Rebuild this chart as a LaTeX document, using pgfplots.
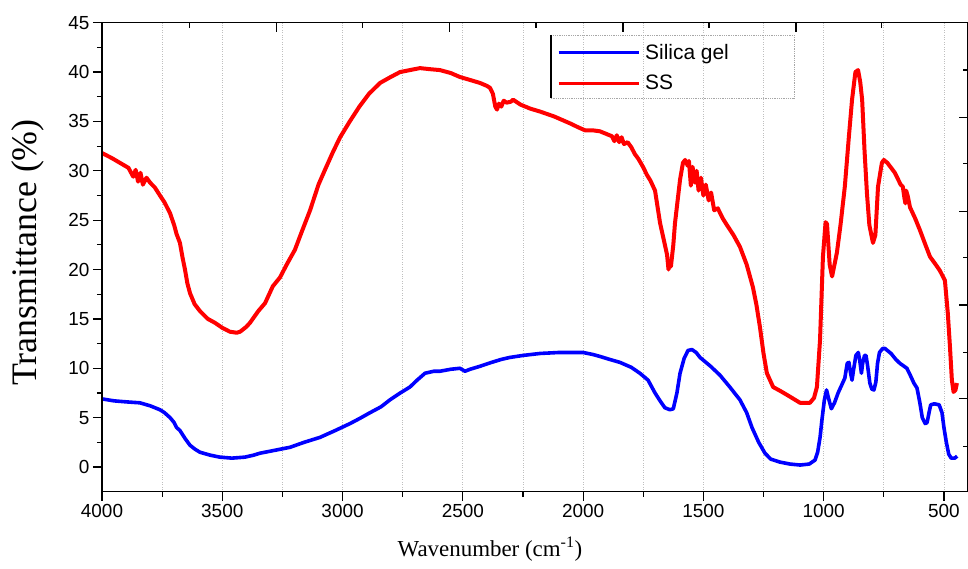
\documentclass[border=0pt]{standalone}
\usepackage{fontspec}
\setmainfont{Liberation Sans}
\newfontfamily\timesfont{Liberation Serif}
\usepackage{pgfplots}
\pgfplotsset{compat=1.18}
\begin{document}
\begin{tikzpicture}
\begin{axis}[
  at={(0,0)}, anchor=south west,
  width=866bp, height=469bp, scale only axis,
  x dir=reverse, xmin=400, xmax=4000, ymin=-2.5, ymax=45,
  xtick={500,1000,...,4000}, minor x tick num=1,
  ytick={0,5,...,45}, minor y tick num=1,
  tick pos=left, tick align=outside,
  major tick length=9bp, minor tick length=5bp,
  every tick/.style={black, line width=1.2bp},
  axis line style={line width=1.5bp},
  xmajorgrids, xminorgrids,
  major grid style={gray!50, dotted, line width=0.8bp},
  minor grid style={gray!50, dotted, line width=0.8bp},
  ticklabel style={font=\fontsize{19}{22}\selectfont},
  /pgf/number format/assume math mode=true,
  /pgf/number format/1000 sep={},
  clip=false,
  legend style={at={(rel axis cs:0.5254,0.958)}, anchor=north west, draw=none, fill=none,
    inner sep=0pt, font=\fontsize{21}{24}\selectfont, row sep=10bp, column sep=3bp, nodes={inner sep=2bp}},
  legend image code/.code={\draw[#1, line width=3pt] (0bp,0bp) -- (80bp,0bp);},
  legend cell align=left,
]
\addplot[blue, line width=3.6bp, line join=round] coordinates {
(4000,6.9)(3950,6.7)(3900,6.6)(3842,6.5)(3800,6.2)(3759,5.8)(3740,5.5)(3717,5.0)(3700,4.5)(3690,4.0)
(3676,3.7)(3655,2.9)(3634,2.2)(3613,1.8)(3593,1.5)(3550,1.2)(3510,1.0)(3460,0.9)(3406,1.0)(3370,1.2)
(3343,1.4)(3280,1.7)(3218,2.0)(3160,2.5)(3094,3.0)(3030,3.7)(2969,4.4)(2930,4.9)(2886,5.5)(2840,6.1)
(2803,6.8)(2760,7.5)(2720,8.1)(2690,8.8)(2657,9.5)(2620,9.7)(2595,9.7)(2550,9.9)(2512,10.0)(2491,9.7)
(2470,9.9)(2429,10.2)(2380,10.6)(2340,10.9)(2304,11.1)(2250,11.3)(2179,11.5)(2100,11.6)(2000,11.6)
(1960,11.4)(1930,11.2)(1890,10.9)(1847,10.6)(1800,10.1)(1764,9.5)(1730,8.8)(1701,7.5)(1680,6.7)
(1660,6.0)(1639,5.8)(1625,5.9)(1610,7.5)(1597,9.5)(1580,11.0)(1564,11.8)(1548,11.9)(1530,11.6)
(1514,11.1)(1470,10.2)(1431,9.3)(1390,8.1)(1348,6.8)(1320,5.5)(1298,4.0)(1270,2.5)(1244,1.4)
(1220,0.8)(1182,0.5)(1140,0.3)(1098,0.2)(1060,0.3)(1036,0.7)(1025,1.5)(1015,3.0)(1007,4.8)(997,6.8)
(988,7.8)(980,7.0)(968,5.9)(955,6.5)(940,7.5)(925,8.3)(912,9.0)(902,10.5)(895,10.6)(888,9.5)(882,8.8)
(876,9.8)(866,11.3)(856,11.6)(850,10.8)(843,9.5)(838,10.5)(830,11.3)(824,11.3)(817,10.2)(808,8.5)
(800,7.9)(791,7.8)(783,8.6)(776,10.5)(768,11.6)(755,12.0)(745,12.0)(720,11.5)(700,10.9)(683,10.5)
(654,10.0)(640,9.3)(625,8.5)(612,8.0)(600,6.5)(590,5.0)(578,4.4)(570,4.5)(562,5.5)(555,6.3)(540,6.4)
(520,6.3)(508,5.5)(500,4.0)(490,2.5)(480,1.3)(470,0.9)(455,0.9)(445,1.1)
};
\addlegendentry{Silica gel}
\addplot[red, line width=4bp, line join=round] coordinates {
(4000,31.8)(3960,31.3)(3925,30.8)(3890,30.3)(3870,29.4)(3860,30.1)(3850,28.9)(3840,29.8)(3830,28.6)
(3815,29.3)(3800,28.8)(3780,28.3)(3759,27.5)(3740,26.8)(3717,25.7)(3700,24.5)(3690,23.6)(3676,22.7)
(3665,21.2)(3655,20.0)(3645,18.6)(3634,17.6)(3615,16.5)(3593,15.8)(3560,15.0)(3530,14.6)(3500,14.1)
(3468,13.7)(3440,13.6)(3426,13.7)(3400,14.2)(3385,14.6)(3350,15.8)(3322,16.6)(3290,18.3)(3260,19.2)
(3230,20.6)(3198,22.0)(3170,23.8)(3135,26.0)(3100,28.6)(3073,30.1)(3040,31.9)(3010,33.4)(2970,35.0)
(2930,36.5)(2890,37.8)(2844,38.9)(2800,39.5)(2761,40.0)(2720,40.2)(2678,40.4)(2640,40.3)(2595,40.2)
(2550,39.9)(2512,39.5)(2470,39.2)(2429,38.9)(2400,38.6)(2387,38.4)(2375,37.8)(2365,36.5)(2358,36.2)
(2350,36.8)(2340,36.5)(2330,37.1)(2318,36.9)(2300,37.0)(2291,37.2)(2260,36.7)(2220,36.3)(2179,36.0)
(2120,35.5)(2054,34.8)(2020,34.4)(1992,34.1)(1960,34.1)(1930,34.0)(1900,33.7)(1880,33.5)(1870,33.0)
(1860,33.6)(1850,32.9)(1840,33.4)(1830,32.7)(1815,32.9)(1800,32.4)(1785,31.7)(1770,31.2)(1751,30.4)
(1735,29.6)(1720,29.0)(1701,28.0)(1680,24.7)(1660,22.5)(1651,21.5)(1645,20.0)(1640,20.8)(1635,20.3)
(1625,22.5)(1618,24.7)(1597,29.1)(1585,30.8)(1576,31.1)(1565,30.5)(1560,31.0)(1552,28.5)(1545,30.4)
(1535,28.8)(1528,30.0)(1520,28.0)(1510,29.3)(1500,27.5)(1490,28.6)(1478,27.0)(1468,27.8)(1455,26.0)
(1440,26.2)(1420,25.2)(1402,24.5)(1375,23.5)(1348,22.3)(1320,20.5)(1294,18.2)(1280,16.5)(1265,14.2)
(1250,11.5)(1236,9.5)(1210,8.1)(1180,7.7)(1152,7.3)(1125,6.9)(1098,6.5)(1057,6.5)(1040,7.0)(1028,8.1)
(1015,12.9)(1003,21.3)(992,24.8)(986,24.6)(975,20.5)(965,19.3)(955,20.5)(945,21.7)(930,24.5)(912,28.4)
(895,33.5)(882,37.2)(868,40.0)(857,40.2)(848,39.0)(840,37.2)(830,32.0)(820,27.7)(810,24.5)(795,22.7)
(785,23.5)(774,28.4)(758,30.8)(750,31.1)(735,30.8)(704,29.8)(680,28.6)(671,28.4)(664,27.2)(660,26.7)
(657,28.0)(650,27.4)(641,26.3)(620,25.2)(600,24.0)(580,22.7)(558,21.3)(537,20.6)(517,19.9)(496,18.9)
(484,15.6)(475,12.2)(467,8.8)(460,7.6)(452,7.8)(446,8.5)
};
\addlegendentry{SS}
\draw[gray!70, densely dotted, line width=0.8bp] (rel axis cs:0.5185,0.9738) rectangle (rel axis cs:0.7991,0.8395);
\draw[black, line width=1.3bp] (rel axis cs:0.5185,0.9738) -- (rel axis cs:0.5185,0.8395);
\node[rotate=90, font=\timesfont\fontsize{36}{40}\selectfont] at (rel axis cs:-0.0855,0.51) {Transmittance (\%)};
\node[anchor=base, font=\timesfont\fontsize{23}{26}\selectfont] at (rel axis cs:0.448,-0.1392) {Wavenumber (cm\textsuperscript{-1})};
\end{axis}
\begin{axis}[
  at={(0,0)}, anchor=south west,
  width=866bp, height=469bp, scale only axis,
  x dir=reverse, xmin=400, xmax=4000, ymin=-2.5, ymax=45,
  xtick pos=right, ytick pos=right, tick align=inside,
  xtick={1115,1834,2554,3274}, minor xtick={758,1477,2196,2916,3636},
  ytick={6.9,16.4,25.9,35.4}, minor ytick={2.1,11.6,21.2,30.7,40.2},
  xticklabels={}, yticklabels={},
  major tick length=9bp, minor tick length=5bp,
  every tick/.style={black, line width=1.2bp},
  axis line style={line width=1.5bp},
]
\end{axis}
\pgfresetboundingbox
\path[use as bounding box] (-102bp,-77.3bp) rectangle (866bp,491.7bp);
\end{tikzpicture}
\end{document}
